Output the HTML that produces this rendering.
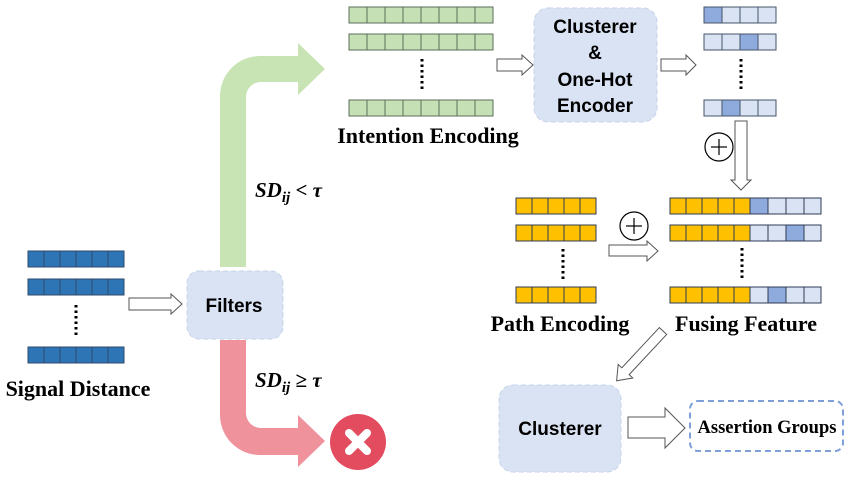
<!DOCTYPE html>
<html><head><meta charset="utf-8"><style>
html,body{margin:0;padding:0;background:#fff;}
svg{display:block;}
.serif{font-family:"Liberation Serif",serif;font-weight:bold;}
.sans{font-family:"Liberation Sans",sans-serif;font-weight:bold;}
</style></head><body>
<svg width="847" height="479" viewBox="0 0 847 479" xmlns="http://www.w3.org/2000/svg">
<!-- Signal distance -->
<g stroke="#2f4a6e" stroke-width="1" fill="#2e75b6">
<g id="sd"><rect x="28" y="251" width="16" height="16"/><rect x="44" y="251" width="16" height="16"/><rect x="60" y="251" width="16" height="16"/><rect x="76" y="251" width="16" height="16"/><rect x="92" y="251" width="16" height="16"/><rect x="108" y="251" width="16" height="16"/></g>
<use href="#sd" y="28"/><use href="#sd" y="96"/>
</g>
<line x1="76" y1="305" x2="76" y2="337" stroke="#000" stroke-width="3" stroke-dasharray="2.5,3"/>
<text x="78" y="396" class="serif" font-size="22" text-anchor="middle">Signal Distance</text>
<polygon points="129,298 171,298 171,294 182,304 171,314 171,310 129,310" fill="#fff" stroke="#555"/>
<rect x="187" y="271" width="96" height="68" rx="12" fill="#dae3f3" stroke="#c5d3ec" stroke-dasharray="5,3"/>
<text x="234" y="312" class="sans" font-size="19" text-anchor="middle">Filters</text>
<path d="M220,267 L220,96 A40,40 0 0 1 260,56 L298,56 L298,43 L325,69 L298,95 L298,82 L261,82 A15,15 0 0 0 246,97 L246,267 Z" fill="#c9e4b4"/>
<path d="M220,340 L220,415 A40,40 0 0 0 260,455 L298,455 L298,467 L325,441 L298,415 L298,428 L261,428 A15,15 0 0 1 246,413 L246,340 Z" fill="#ef929b"/>
<circle cx="358" cy="442" r="28" fill="#e34c5f"/>
<g stroke="#fff" stroke-width="8" stroke-linecap="round"><line x1="349" y1="433" x2="367" y2="451"/><line x1="367" y1="433" x2="349" y2="451"/></g>
<text x="255" y="197" font-family="Liberation Serif,serif" font-weight="bold" font-style="italic" font-size="21">SD<tspan font-size="15" dy="5">ij</tspan><tspan dy="-5"> &lt; τ</tspan></text>
<text x="255" y="387" font-family="Liberation Serif,serif" font-weight="bold" font-style="italic" font-size="21">SD<tspan font-size="15" dy="5">ij</tspan><tspan dy="-5" font-style="normal"> ≥ </tspan>τ</text>
<!-- green bars -->
<g stroke="#5b6e5b" stroke-width="1" fill="#c5e0b4">
<g id="gb"><rect x="349" y="7" width="18" height="16"/><rect x="367" y="7" width="18" height="16"/><rect x="385" y="7" width="18" height="16"/><rect x="403" y="7" width="18" height="16"/><rect x="421" y="7" width="18" height="16"/><rect x="439" y="7" width="18" height="16"/><rect x="457" y="7" width="18" height="16"/><rect x="475" y="7" width="18" height="16"/></g>
<use href="#gb" y="27"/><use href="#gb" y="93"/>
</g>
<line x1="422" y1="59" x2="422" y2="91" stroke="#000" stroke-width="3" stroke-dasharray="2.5,3"/>
<text x="428" y="143" class="serif" font-size="22" text-anchor="middle">Intention Encoding</text>
<polygon points="497,59 522,59 522,55 533,65 522,75 522,71 497,71" fill="#fff" stroke="#555"/>
<rect x="534" y="8" width="123" height="114" rx="14" fill="#dae3f3" stroke="#c5d3ec" stroke-dasharray="5,3"/>
<g class="sans" font-size="19" text-anchor="middle"><text x="595" y="33">Clusterer</text><text x="595" y="59">&amp;</text><text x="595" y="86">One-Hot</text><text x="595" y="112">Encoder</text></g>
<polygon points="661,59 686,59 686,55 696,65 686,75 686,71 661,71" fill="#fff" stroke="#555"/>
<g stroke="#44546a" stroke-width="1" fill="#dae3f3">
<rect x="704" y="7" width="18" height="16" fill="#8faadc"/><rect x="722" y="7" width="18" height="16"/><rect x="740" y="7" width="18" height="16"/><rect x="758" y="7" width="18" height="16"/>
<rect x="704" y="34" width="18" height="16"/><rect x="722" y="34" width="18" height="16"/><rect x="740" y="34" width="18" height="16" fill="#8faadc"/><rect x="758" y="34" width="18" height="16"/>
<rect x="704" y="100" width="18" height="16"/><rect x="722" y="100" width="18" height="16" fill="#8faadc"/><rect x="740" y="100" width="18" height="16"/><rect x="758" y="100" width="18" height="16"/>
</g>
<line x1="741" y1="59" x2="741" y2="91" stroke="#000" stroke-width="3" stroke-dasharray="2.5,3"/>
<polygon points="735,121 747,121 747,180 751,180 741,190 731,180 735,180" fill="#fff" stroke="#555"/>
<g fill="#fff" stroke="#000" stroke-width="1.2"><circle cx="719" cy="147" r="14"/><line x1="711" y1="147" x2="727" y2="147"/><line x1="719" y1="139" x2="719" y2="155"/></g>
<!-- path encoding -->
<g stroke="#2f3b55" stroke-width="1" fill="#ffc000">
<g id="pb"><rect x="516" y="198" width="16" height="16"/><rect x="532" y="198" width="16" height="16"/><rect x="548" y="198" width="16" height="16"/><rect x="564" y="198" width="16" height="16"/><rect x="580" y="198" width="16" height="16"/></g>
<use href="#pb" y="27"/><use href="#pb" y="89"/>
</g>
<line x1="563" y1="249" x2="563" y2="281" stroke="#000" stroke-width="3" stroke-dasharray="2.5,3"/>
<text x="560" y="331" class="serif" font-size="22" text-anchor="middle">Path Encoding</text>
<g fill="#fff" stroke="#000" stroke-width="1.2"><circle cx="634" cy="226" r="14"/><line x1="626" y1="226" x2="642" y2="226"/><line x1="634" y1="218" x2="634" y2="234"/></g>
<polygon points="609,245 647,245 647,241 658,251 647,261 647,256 609,256" fill="#fff" stroke="#555"/>
<!-- fusing -->
<g stroke="#2f3b55" stroke-width="1">
<g fill="#ffc000"><g id="fy"><rect x="670" y="198" width="16" height="16"/><rect x="686" y="198" width="16" height="16"/><rect x="702" y="198" width="16" height="16"/><rect x="718" y="198" width="16" height="16"/><rect x="734" y="198" width="16" height="16"/></g><use href="#fy" y="27"/><use href="#fy" y="89"/></g>
<g fill="#dae3f3">
<rect x="750" y="198" width="18" height="16" fill="#8faadc"/><rect x="768" y="198" width="18" height="16"/><rect x="786" y="198" width="18" height="16"/><rect x="804" y="198" width="17" height="16"/>
<rect x="750" y="225" width="18" height="16"/><rect x="768" y="225" width="18" height="16"/><rect x="786" y="225" width="18" height="16" fill="#8faadc"/><rect x="804" y="225" width="17" height="16"/>
<rect x="750" y="287" width="18" height="16"/><rect x="768" y="287" width="18" height="16" fill="#8faadc"/><rect x="786" y="287" width="18" height="16"/><rect x="804" y="287" width="17" height="16"/>
</g></g>
<line x1="742" y1="248" x2="742" y2="280" stroke="#000" stroke-width="3" stroke-dasharray="2.5,3"/>
<text x="746" y="331" class="serif" font-size="22" text-anchor="middle">Fusing Feature</text>
<g transform="translate(663,331) rotate(133)"><polygon points="0,-5 55,-5 55,-10 68,0 55,10 55,5 0,5" fill="#fff" stroke="#555"/></g>
<rect x="499" y="385" width="122" height="87" rx="14" fill="#dae3f3" stroke="#c5d3ec" stroke-dasharray="5,3"/>
<text x="560" y="435" class="sans" font-size="19" text-anchor="middle">Clusterer</text>
<polygon points="628,417 665,417 665,408 685,428 665,448 665,438 628,438" fill="#fff" stroke="#555"/>
<rect x="690" y="401" width="153" height="50" rx="8" fill="#fff" stroke="#7f9fd8" stroke-width="2" stroke-dasharray="6,4"/>
<text x="767" y="433" class="serif" font-size="18.5" text-anchor="middle">Assertion Groups</text>
</svg>
</body></html>
